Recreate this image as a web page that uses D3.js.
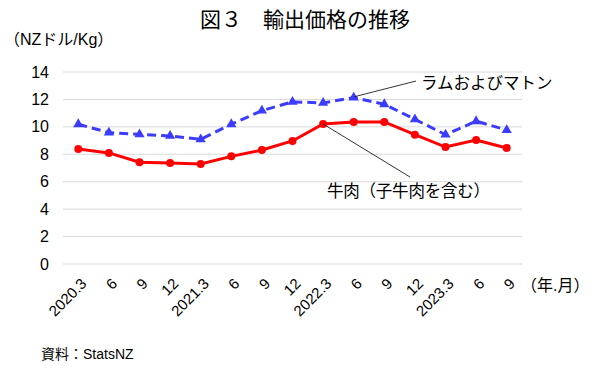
<!DOCTYPE html>
<html><head><meta charset="utf-8">
<script src="https://cdn.jsdelivr.net/npm/d3@7"></script>
<style>body{margin:0;background:#fff}svg{display:block}text{font-family:"Liberation Sans","Noto Sans CJK JP",sans-serif;fill:#000}</style>
</head><body><svg id="c" width="592" height="371"></svg>
<script>
const categories = ["2020.3","6","9","12","2021.3","6","9","12","2022.3","6","9","12","2023.3","6","9"];
const lamb = [10.19,9.58,9.46,9.34,9.09,10.19,11.18,11.82,11.75,12.13,11.65,10.55,9.43,10.41,9.77];
const beef = [8.39,8.10,7.42,7.37,7.29,7.85,8.31,8.97,10.21,10.36,10.36,9.43,8.53,9.04,8.46];
const yTicks = [0,2,4,6,8,10,12,14];
const title = "図３　輸出価格の推移";
const yUnit = "（NZドル/Kg）";
const xUnit = "（年.月）";
const source = "資料：StatsNZ";
const lambLabel = "ラムおよびマトン";
const beefLabel = "牛肉（子牛肉を含む）";

const svg = d3.select("#c");
const m = {l:63, r:522, t:72, b:264};
const idx = categories.map((d,i)=>i);
const x = d3.scalePoint().domain(idx).range([m.l, m.r]).padding(0.5);
const y = d3.scaleLinear().domain([0,14]).range([m.b, m.t]);

// grid
svg.append("g").selectAll("line").data(yTicks).join("line")
  .attr("x1", m.l).attr("x2", m.r)
  .attr("y1", d=>y(d)).attr("y2", d=>y(d))
  .attr("stroke", "#d9d9d9").attr("stroke-width", 1);

// y axis labels
const ya = svg.append("g").attr("transform", `translate(${m.l-14},0)`)
  .call(d3.axisLeft(y).tickValues(yTicks).tickSize(0).tickPadding(0));
ya.select(".domain").remove();
ya.selectAll("text").style("font-size","16px").style("font-family","Liberation Sans, sans-serif").attr("fill","#000");

// x axis labels
const xa = svg.append("g").attr("transform", `translate(0,${m.b})`)
  .call(d3.axisBottom(x).tickFormat(i=>categories[i]).tickSize(0).tickPadding(0));
xa.select(".domain").remove();
xa.selectAll("text").style("font-size","15px").style("font-family","Liberation Sans, sans-serif")
  .attr("fill","#000")
  .attr("text-anchor","end").attr("dy","0.35em")
  .attr("transform","translate(5,17) rotate(-45)");

// lines
const line = d3.line().x((d,i)=>x(i)).y(d=>y(d));
svg.append("path").datum(beef).attr("d", line).attr("fill","none")
  .attr("stroke","#ff0000").attr("stroke-width",3);
svg.append("path").datum(lamb).attr("d", line).attr("fill","none")
  .attr("stroke","#3c3cff").attr("stroke-width",3).attr("stroke-dasharray","9,5");

svg.append("g").selectAll("circle").data(beef).join("circle")
  .attr("cx",(d,i)=>x(i)).attr("cy",d=>y(d)).attr("r",4).attr("fill","#ff0000");
const tri = d3.symbol().type(d3.symbolTriangle).size(45);
svg.append("g").selectAll("path").data(lamb).join("path")
  .attr("d", tri).attr("transform",(d,i)=>`translate(${x(i)},${y(d)})`).attr("fill","#3c3cff");

// annotations
svg.append("line").attr("x1", x(9)+1).attr("y1", y(lamb[9])-1).attr("x2", 416).attr("y2", 81)
  .attr("stroke","#000").attr("stroke-width",0.8);
svg.append("text").attr("x",421).attr("y",89).style("font-size","16.5px").text(lambLabel);
svg.append("line").attr("x1", x(8)).attr("y1", y(beef[8])).attr("x2", 410).attr("y2", 177)
  .attr("stroke","#000").attr("stroke-width",0.8);
svg.append("text").attr("x",327).attr("y",197).attr("textLength",163).style("font-size","16.5px").text(beefLabel);

// titles
svg.append("text").attr("x",305).attr("y",27).attr("text-anchor","middle")
  .style("font-size","21px").text(title);
svg.append("text").attr("x",4).attr("y",45).style("font-size","16px").text(yUnit);
svg.append("text").attr("x",521).attr("y",291).style("font-size","16px").text(xUnit);
svg.append("text").attr("x",41).attr("y",359).style("font-size","14px").text(source);
</script></body></html>
